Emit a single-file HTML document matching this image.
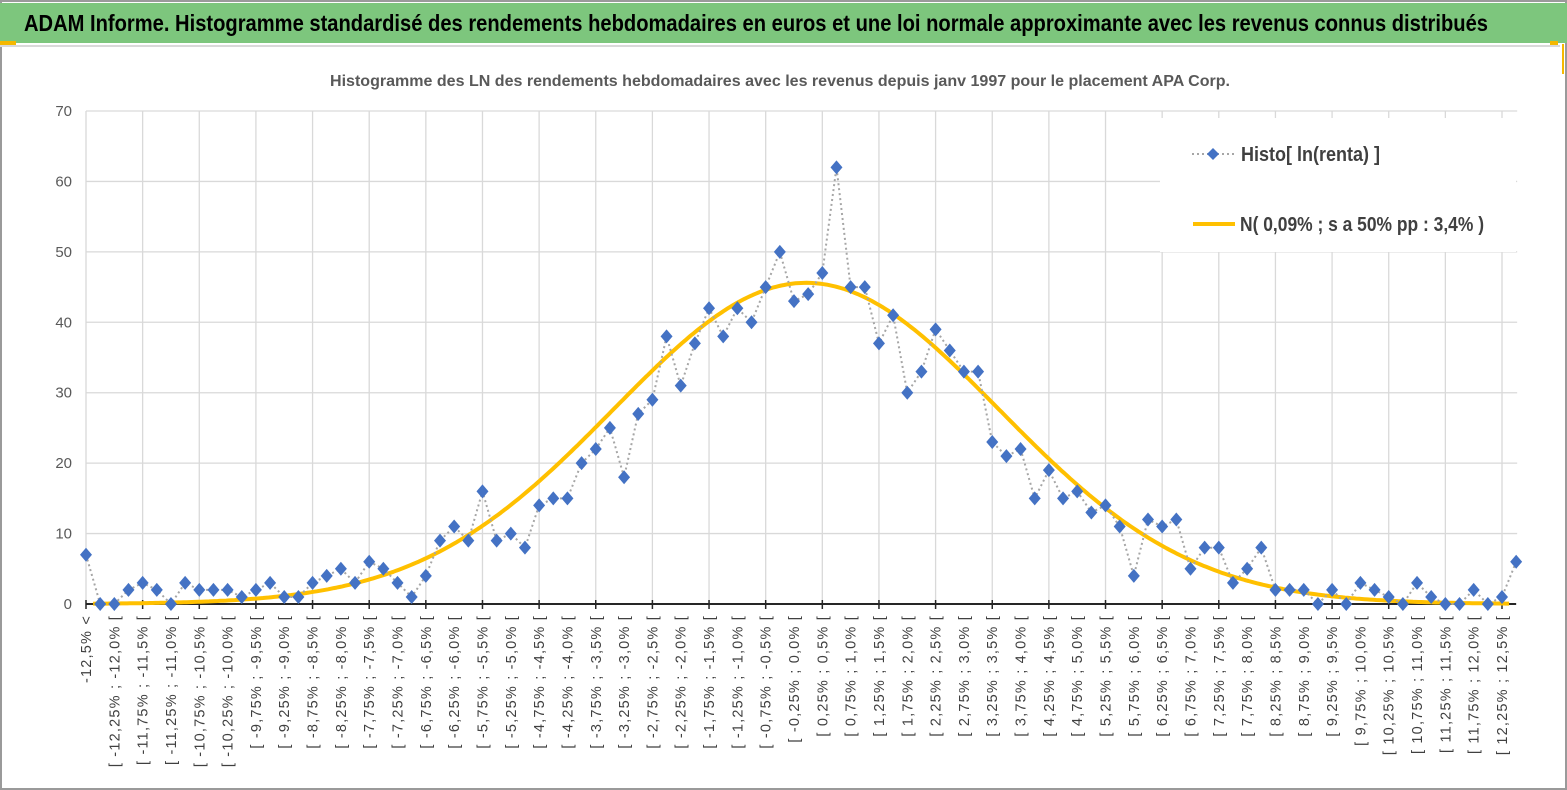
<!DOCTYPE html>
<html><head><meta charset="utf-8">
<style>
html,body{margin:0;padding:0;background:#fff;}
svg{display:block;font-family:"Liberation Sans Narrow","Liberation Sans",sans-serif;}
</style></head>
<body>
<svg id="chart" width="1567" height="790" viewBox="0 0 1567 790" xmlns="http://www.w3.org/2000/svg">
  <rect x="0" y="0" width="1567" height="790" fill="#fff"/>
  <rect x="1" y="1" width="1565" height="788" fill="none" stroke="#9a9a9a" stroke-width="2"/>
  <rect x="0" y="3" width="1567" height="40" fill="#7dc67d"/>
  <line x1="0" y1="46" x2="1560" y2="46" stroke="#d9d9d9" stroke-width="2"/>
  <rect x="0" y="41" width="16" height="4" fill="#f5b800"/>
  <rect x="1550" y="41" width="8" height="4" fill="#f5b800"/>
  <rect x="1562" y="44" width="2" height="30" fill="#f5b800"/>
  <text x="24" y="31" font-size="23" font-weight="bold" fill="#000" textLength="1464" lengthAdjust="spacingAndGlyphs">ADAM Informe. Histogramme standardisé des rendements hebdomadaires en euros et une loi normale approximante avec les revenus connus distribués</text>
  <text x="330" y="86" font-size="16" font-weight="bold" fill="#595959" textLength="900" lengthAdjust="spacingAndGlyphs">Histogramme des LN des rendements hebdomadaires avec les revenus depuis janv 1997 pour le placement APA Corp.</text>
  <g id="grid"></g>
  <g id="yaxis"></g>
  <g id="xaxis"></g>
  <g id="series"></g>
  <g id="legend">
    <rect x="1160" y="118" width="356" height="134" fill="#fff"/>
    <g>
      <line x1="1192" y1="154" x2="1234" y2="154" stroke="#a6a6a6" stroke-width="2" stroke-dasharray="2,3"/>
      <path d="M1213 148 L1219 154 L1213 160 L1207 154 Z" fill="#4472c4"/>
      <text x="1241" y="161" font-size="20" font-weight="bold" fill="#404040" textLength="139" lengthAdjust="spacingAndGlyphs">Histo[ ln(renta) ]</text>
    </g>
    <g>
      <line x1="1193" y1="224" x2="1235" y2="224" stroke="#ffc000" stroke-width="4"/>
      <text x="1240" y="231" font-size="20" font-weight="bold" fill="#404040" textLength="244" lengthAdjust="spacingAndGlyphs">N( 0,09% ; s a 50% pp : 3,4% )</text>
    </g>
  </g>
</svg>
<script>
const histoValues = [7,0,0,2,3,2,0,3,2,2,2,1,2,3,1,1,3,4,5,3,6,5,3,1,4,9,11,9,16,9,10,8,14,15,15,20,22,25,18,27,29,38,31,37,42,38,42,40,45,50,43,44,47,62,45,45,37,41,30,33,39,36,33,33,23,21,22,15,19,15,16,13,14,11,4,12,11,12,5,8,8,3,5,8,2,2,2,0,2,0,3,2,1,0,3,1,0,0,2,0,1,6];
const binLows = [];   // lower bound (%) of each bin; index 0 = "< -12,5%", last = "> 12,5%"
for (let i = 0; i < histoValues.length; i++) binLows.push(-12.75 + 0.25 * i);
const normalParams = [0.09, 3.4, 45.6]; // mean %, sd %, peak count
const yTicks = [0,10,20,30,40,50,60,70];
const yMax = 70;

const NS = "http://www.w3.org/2000/svg";
const X0 = 86, DX = 14.16, Y0 = 604, YTOP = 111;
const xPos = i => X0 + i * DX;
const yPos = v => Y0 - (v / yMax) * (Y0 - YTOP);
const xFromPct = p => xPos((p + 12.5) / 0.25 + 0.5);
const mk = (tag, attrs, parent) => { const e = document.createElementNS(NS, tag); for (const k in attrs) e.setAttribute(k, attrs[k]); parent.appendChild(e); return e; };
const fmt = v => { const r = Math.round(v * 100) / 100; let s = (Math.abs(r * 10 - Math.round(r * 10)) < 1e-9) ? r.toFixed(1) : r.toFixed(2); if (s === '-0.0') s = '0.0'; return s.replace('.', ','); };

const grid = document.getElementById('grid'), yaxis = document.getElementById('yaxis'), xaxis = document.getElementById('xaxis'), series = document.getElementById('series');
const N = histoValues.length;
const xRight = xPos(N - 1) + 1;

yTicks.forEach(t => {
  if (t > 0) {
    const g = mk('line', {x1: X0, x2: xRight, y1: yPos(t), y2: yPos(t), stroke: '#d9d9d9', 'stroke-width': 1.3}, grid);
    
    
  }
  const lb = mk('text', {x: 72, y: yPos(t) + 5, 'font-size': 15, fill: '#595959', 'text-anchor': 'end'}, yaxis);
  lb.textContent = t;
  
  
});

for (let i = 0; i < N; i += 4) {
  const g = mk('line', {x1: xPos(i), x2: xPos(i), y1: YTOP, y2: Y0, stroke: '#d9d9d9', 'stroke-width': 1.3}, grid);
  
  
  const t = mk('line', {x1: xPos(i), x2: xPos(i), y1: Y0 - 4, y2: Y0 + 5, stroke: '#262626', 'stroke-width': 1.5}, xaxis);
  
  
}
const ax = mk('line', {x1: X0, x2: xRight - 1, y1: Y0, y2: Y0, stroke: '#262626', 'stroke-width': 2}, xaxis);



for (let i = 0; i < N - 1; i += 2) {
  let label;
  if (i === 0) label = fmt(-12.5) + '% <';
  else { const lo = binLows[i]; label = '[ ' + fmt(lo) + '% ; ' + fmt(lo + 0.25) + '% ['; }
  const x = xPos(i) + 5, y = 615;
  const tx = mk('text', {x: x, y: y, 'font-size': 14.5, 'letter-spacing': 1.2, 'font-family': '"Liberation Sans", sans-serif', fill: '#404040', 'text-anchor': 'end', transform: 'rotate(-90 ' + x + ' ' + y + ')'}, xaxis);
  tx.textContent = label;
  
  
}

// normal curve
const [mu, sd, peak] = normalParams;
let d = '';
for (let p = -12.5; p <= 12.5001; p += 0.05) {
  const v = peak * Math.exp(-0.5 * Math.pow((p - mu) / sd, 2));
  d += (d ? ' L' : 'M') + xFromPct(p).toFixed(1) + ' ' + yPos(v).toFixed(1);
}
const curve = mk('path', {d: d, fill: 'none', stroke: '#ffc000', 'stroke-width': 4, 'stroke-linejoin': 'round'}, series);



// histo dotted line
const pts = histoValues.map((v, i) => xPos(i).toFixed(1) + ',' + yPos(v).toFixed(1)).join(' ');
const hl = mk('polyline', {points: pts, fill: 'none', stroke: '#a6a6a6', 'stroke-width': 2, 'stroke-dasharray': '2,3'}, series);



histoValues.forEach((v, i) => {
  const x = xPos(i), y = yPos(v);
  const m = mk('path', {d: `M${x} ${y - 7} L${x + 6} ${y} L${x} ${y + 7} L${x - 6} ${y} Z`, fill: '#4472c4'}, series);
  
  
});
</script>
</body></html>
